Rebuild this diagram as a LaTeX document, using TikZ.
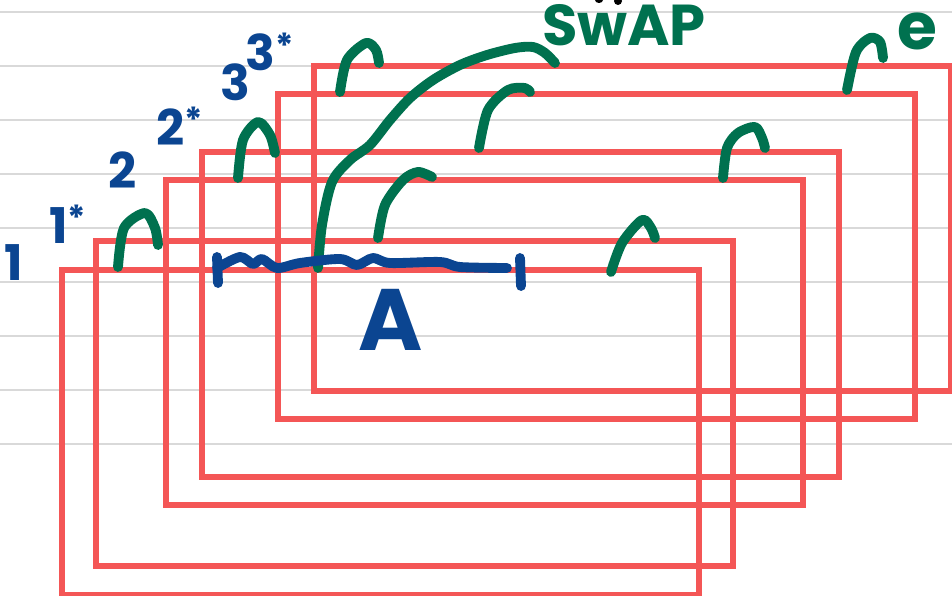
\documentclass[tikz,border=0pt]{standalone}
\usepackage{fontspec}
\setmainfont{Poppins}

\definecolor{ruleGray}{HTML}{D9D9D9}
\definecolor{layerRed}{HTML}{F45656}
\definecolor{inkGreen}{HTML}{00714F}
\definecolor{inkBlue}{HTML}{0B4591}

\begin{document}
\begin{tikzpicture}
  [x=0.025cm,y=-0.025cm,
   ruleL/.style={draw=ruleGray,line width=2pt},
   layerN/.style={draw=layerRed,line width=4.3pt,minimum width=15.92cm,
                  minimum height=8.12cm,inner sep=0pt,outer sep=0pt,anchor=north west},
   hookL/.style={draw=inkGreen,line width=7pt,line cap=round,line join=round},
   rangeL/.style={draw=inkBlue,line width=7pt,line cap=round,line join=round},
   labelN/.style={text=inkBlue,font=\fontsize{35}{35}\selectfont\bfseries,inner sep=0pt},
   noteN/.style={text=inkGreen,inner sep=0pt}]

  \useasboundingbox (0,0) rectangle (952,596);

  % ruled paper
  \foreach \y in {12,66,...,444}
    \draw [ruleL] (0,\y) -- (952,\y);

  % the stacked layers
  \foreach \x/\y [count=\i] in {62/270,96/241,166/180,202/152,278/94,314/66}
    \node[layerN] (layer\i) at (\x,\y) {};

  % little hooks on top of the layers
  \draw [hookL] plot[smooth] coordinates {(118,267) (124,228) (145,213) (155,228) (158,245)};
  \draw [hookL] plot[smooth] coordinates {(238,178) (243,140) (258,122) (270,135) (275,153)};
  \draw [hookL] plot[smooth] coordinates {(340,92) (347,60) (366,43) (376,50) (379,63)};
  \draw [hookL] plot[smooth] coordinates {(378,238) (385,205) (403,180) (418,172) (432,177)};
  \draw [hookL] plot[smooth] coordinates {(479,148) (488,110) (508,90) (525,88) (530,92)};
  \draw [hookL] plot[smooth] coordinates {(611,272) (622,243) (642,220) (651,228) (655,238)};
  \draw [hookL] plot[smooth] coordinates {(723,178) (727,148) (738,133) (755,127) (762,138) (765,148)};
  \draw [hookL] plot[smooth] coordinates {(847,90) (856,52) (870,38) (880,42) (883,58)};

  % the long swap arc
  \draw [hookL] plot[smooth] coordinates {(318,268) (322,225) (332,182) (350,160)
    (370,145) (390,120) (410,98) (433,80) (460,65) (487,55) (515,48) (533,47)
    (545,53) (555,63)};

  % range A
  \coordinate (rl) at (217,268);
  \coordinate (rr) at (507,268);
  \draw [rangeL] (217,257) -- (218,283);
  \draw [rangeL] (520,258) -- (521,286);
  \draw [rangeL] plot[smooth] coordinates {(rl) (240,257) (253,264) (262,259)
    (277,268) (300,263) (340,259) (357,265) (373,258) (390,263) (440,262)
    (460,267) (rr)};

  \node[labelN] (one)   at (14,263)  {1};
  \node[labelN] (oneS)  at (68,224)  {1\textsuperscript{*}};
  \node[labelN] (two)   at (123,170) {2};
  \node[labelN] (twoS)  at (180,126) {2\textsuperscript{*}};
  \node[labelN] (three) at (235,82)  {3};
  \node[labelN] (threeS) at (270,52) {3\textsuperscript{*}};
  \node[labelN,font=\fontsize{62}{62}\selectfont\bfseries] (rangeA) at (391,320) {A};

  \node[noteN,font=\fontsize{41}{41}\selectfont\bfseries] (swap) at (624,25) {SwAP};
  \node[noteN,font=\fontsize{46}{46}\selectfont\bfseries] (e) at (917,31) {e};

  % ink cut off at the top edge
  \fill [black] (599,0) ellipse [x radius=4,y radius=3];
  \fill [black] (618,1) ellipse [x radius=4,y radius=4];
\end{tikzpicture}
\end{document}
